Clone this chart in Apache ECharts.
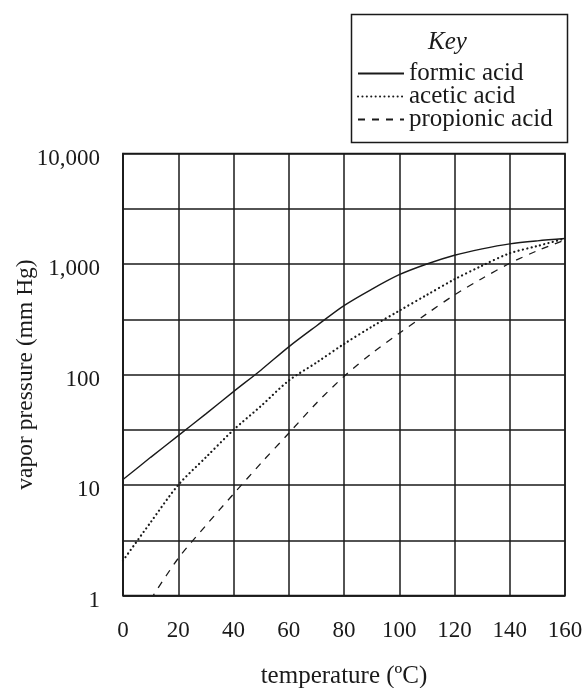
<!DOCTYPE html>
<html>
<head>
<meta charset="utf-8">
<script src="https://cdn.jsdelivr.net/npm/echarts@6/dist/echarts.min.js"></script>
<style>
html,body{margin:0;padding:0;background:#fff;}
#chart{width:585px;height:688px;}
</style>
</head>
<body>
<div id="chart"></div>
<script>
// temperatures (ºC)
var temps = [0, 10, 20, 30, 40, 50, 60, 70, 80, 90, 100, 110, 120, 130, 140, 150, 160];
// vapor pressure (mm Hg)
var formic = [11.2, 17.8, 28, 44, 70, 110, 178, 275, 420, 590, 800, 1000, 1200, 1370, 1520, 1620, 1700];
var acetic = [2.07, 4.6, 10, 17.8, 31.5, 52, 88, 128, 189, 270, 378, 525, 727, 965, 1250, 1455, 1700];
var propTemps = [10, 20, 30, 40, 50, 60, 70, 80, 90, 100, 110, 120, 130, 140, 150, 160];
var propionic = [0.92, 2.17, 4.3, 8.3, 15.8, 29.4, 55, 96, 155, 236, 355, 525, 740, 1015, 1320, 1650];
var xTicks = [0, 20, 40, 60, 80, 100, 120, 140, 160];
var yTickLabels = ['1', '10', '100', '1,000', '10,000'];

function pairs(xs, ys) { return xs.map(function (x, i) { return [x, ys[i]]; }); }

var FONT = '"Liberation Serif", "DejaVu Serif", serif';
var INK = '#1a1a1a';

var chart = echarts.init(document.getElementById('chart'), null, {renderer: 'canvas'});
chart.setOption({
  animation: false,
  backgroundColor: '#fff',
  textStyle: {fontFamily: FONT, color: INK},
  grid: {left: 123, top: 153.5, width: 442, height: 442, show: true, borderColor: INK, borderWidth: 1.5,
    containLabel: false, outerBoundsMode: 'none'},
  xAxis: {
    type: 'value', min: 0, max: 160, interval: 20,
    axisLine: {show: true, lineStyle: {color: INK, width: 1.5}},
    axisTick: {show: false},
    splitLine: {show: true, lineStyle: {color: INK, width: 1.5}},
    axisLabel: {fontFamily: FONT, fontSize: 23, color: INK, margin: 24,
      formatter: function (v) { return xTicks.indexOf(v) >= 0 ? String(v) : ''; }},
    name: 'temperature (ºC)', nameLocation: 'middle', nameGap: 68, nameMoveOverlap: false,
    nameTextStyle: {fontFamily: FONT, fontSize: 25, color: INK}
  },
  yAxis: {
    type: 'log', logBase: Math.sqrt(10), min: 1, max: 10000, splitNumber: 8,
    axisLine: {show: true, lineStyle: {color: INK, width: 1.5}},
    axisTick: {show: false},
    splitLine: {show: true, lineStyle: {color: INK, width: 1.5}},
    axisLabel: {fontFamily: FONT, fontSize: 23, color: INK, margin: 23,
      rich: {a: {fontFamily: FONT, fontSize: 23, color: INK, padding: [10, 0, 0, 0]}},
      formatter: function (v) {
        var l = Math.log10(v);
        var r = Math.round(l);
        if (Math.abs(l - r) < 1e-6 && r >= 0 && r < yTickLabels.length) return '{a|' + yTickLabels[r] + '}';
        return '';
      }},
    name: 'vapor pressure (mm Hg)', nameLocation: 'middle', nameGap: 85, nameMoveOverlap: false,
    nameTextStyle: {fontFamily: FONT, fontSize: 23.5, color: INK}
  },
  legend: {
    orient: 'vertical', left: 357, top: 61,
    itemWidth: 46, itemHeight: 10, itemGap: -2, padding: 0,
    itemStyle: {opacity: 0},
    textStyle: {fontFamily: FONT, fontSize: 25, color: INK, lineHeight: 22.5},
    data: ['formic acid', 'acetic acid', 'propionic acid']
  },
  graphic: [
    {type: 'rect', left: 349, top: 12, shape: {width: 216, height: 128},
      style: {fill: 'none', stroke: INK, lineWidth: 1.5}, z: 0},
    {type: 'text', left: 428, top: 30,
      style: {text: 'Key', font: 'italic 25px ' + FONT, fill: INK}}
  ],
  series: [
    {name: 'formic acid', type: 'line', data: pairs(temps, formic), smooth: 0.3,
      symbol: 'none', lineStyle: {color: INK, width: 1.4, type: 'solid'}, itemStyle: {color: INK}},
    {name: 'acetic acid', type: 'line', data: pairs(temps, acetic), smooth: 0.3,
      symbol: 'none', lineStyle: {color: INK, width: 2.2, type: [0.1, 4.3], cap: 'round'}, itemStyle: {color: INK}},
    {name: 'propionic acid', type: 'line', data: pairs(propTemps, propionic), smooth: 0.3,
      symbol: 'none', lineStyle: {color: INK, width: 1.3, type: [7, 7]}, itemStyle: {color: INK}}
  ]
});
</script>
</body>
</html>
